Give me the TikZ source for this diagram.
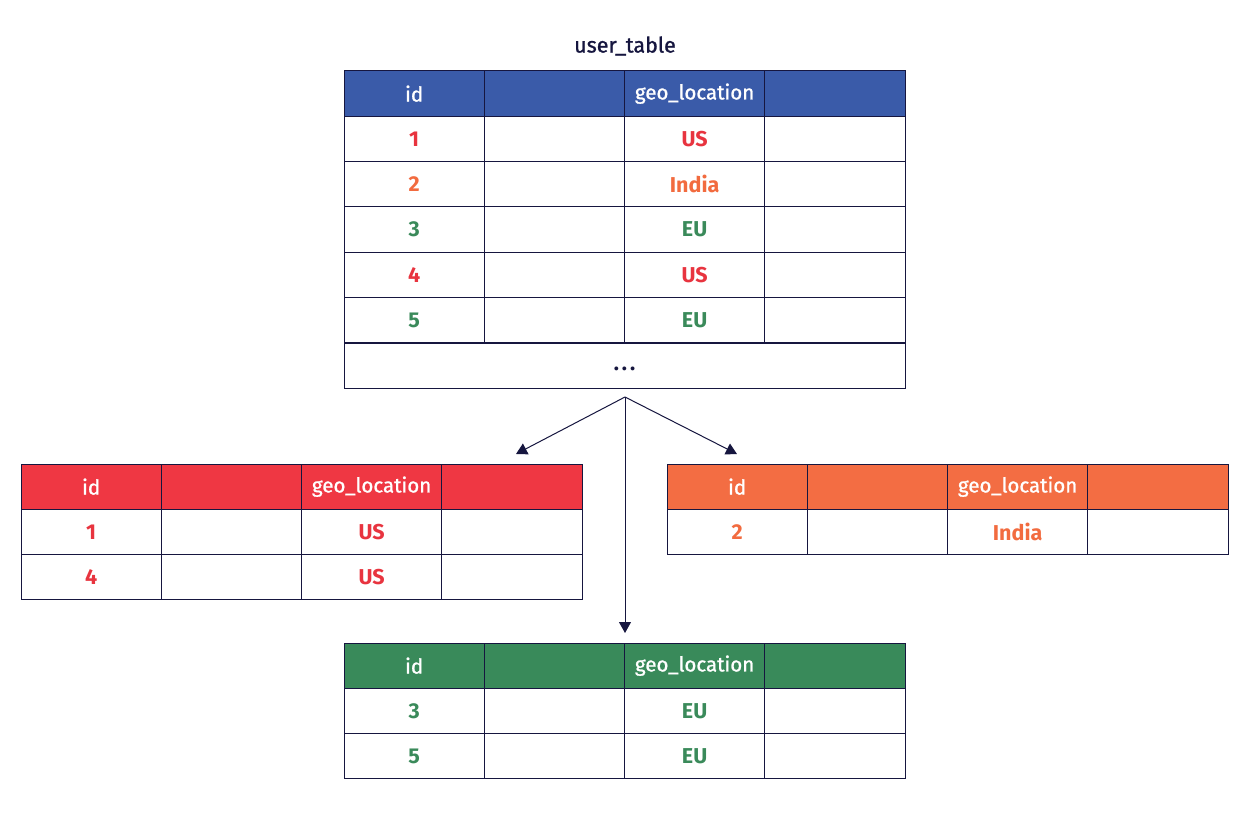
\documentclass[tikz,border=0pt]{standalone}
\usepackage{fontspec}
\setmainfont{Fira Sans}
\newfontfamily\medfont{Fira Sans}[FakeBold=1.1]
\usetikzlibrary{arrows.meta,calc}
\definecolor{navy}{HTML}{16163F}
\definecolor{hblue}{HTML}{3A5BA9}
\definecolor{hred}{HTML}{EF3743}
\definecolor{horange}{HTML}{F36D43}
\definecolor{hgreen}{HTML}{398A5A}
\definecolor{tred}{HTML}{E8343F}
\definecolor{torange}{HTML}{F26B3F}
\definecolor{tgreen}{HTML}{3A8A5A}
\newcommand{\hdrow}[4]{%
  \node[cell,fill=#4,text=white] (#1-1) at (#2,#3) {id};
  \node[cell,fill=#4] (#1-2) at (#1-1.north east) {};
  \node[cell,fill=#4,text=white] (#1-3) at (#1-2.north east) {geo\_location};
  \node[cell,fill=#4] (#1-4) at (#1-3.north east) {};
}
\newcommand{\datarow}[6]{%
  \node[cell,text=#4,font=\valfont] (#1-1) at (#2,#3) {#5};
  \node[cell] (#1-2) at (#1-1.north east) {};
  \node[cell,text=#4,font=\valfont] (#1-3) at (#1-2.north east) {#6};
  \node[cell] (#1-4) at (#1-3.north east) {};
}
\newcommand{\valfont}{\fontsize{21.5}{24}\selectfont\bfseries}
\begin{document}
\begin{tikzpicture}[x=1pt,y=-1pt,
  cell/.style={draw=navy, line width=1pt, minimum width=140.25pt, minimum height=45.3pt,
    anchor=north west, inner sep=0pt, outer sep=0pt, font=\fontsize{20.5}{24}\selectfont\medfont},
  arr/.style={draw=navy, line width=1pt, -{Triangle[width=12pt,length=11pt]}}]
\useasboundingbox (0,0) rectangle (1250,834);
\fill[white] (0,0) rectangle (1250,834);
% title
\node[text=navy, font=\fontsize{21.5}{24}\selectfont\medfont] (title) at (625,46) {user\_table};
% top table
\hdrow{th}{344}{71}{hblue}
\datarow{t1}{344}{116.3}{tred}{1}{US}
\datarow{t2}{344}{161.6}{torange}{2}{India}
\datarow{t3}{344}{207}{tgreen}{3}{EU}
\datarow{t4}{344}{252.3}{tred}{4}{US}
\datarow{t5}{344}{297.6}{tgreen}{5}{EU}
\node[cell, minimum width=561pt, text=navy, font=\valfont] (tdots) at (344,343) {\rule{0pt}{11pt}.\hspace{3pt}.\hspace{3pt}.};
% left (red) table
\hdrow{lh}{21}{464}{hred}
\datarow{l1}{21}{509.3}{tred}{1}{US}
\datarow{l2}{21}{554.6}{tred}{4}{US}
% right (orange) table
\hdrow{rh}{667}{464}{horange}
\datarow{r1}{667}{509.3}{torange}{2}{India}
% bottom (green) table
\hdrow{bh}{344}{643}{hgreen}
\datarow{b1}{344}{688.3}{tgreen}{3}{EU}
\datarow{b2}{344}{733.6}{tgreen}{5}{EU}
% connectors
\coordinate (split) at (625,397);
\coordinate (lend) at (516,454);
\coordinate (rend) at (737,454);
\coordinate (bend) at (625,633);
\draw[arr] (split) -- (lend);
\draw[arr] (split) -- (rend);
\draw[arr] (split) -- (bend);
\end{tikzpicture}
\end{document}
